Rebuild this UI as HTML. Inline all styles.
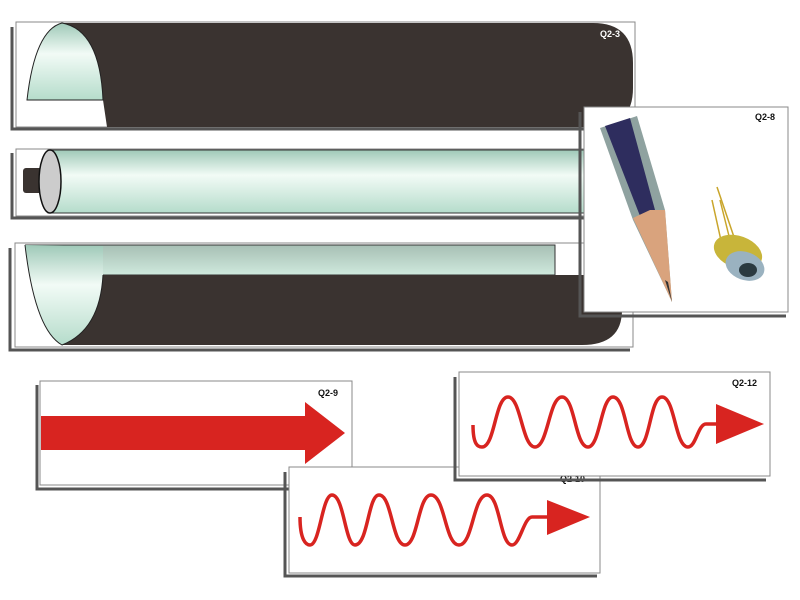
<!DOCTYPE html>
<html><head><meta charset="utf-8"><style>body{margin:0;background:#fff}svg{display:block}</style></head><body>
<svg width="800" height="600" viewBox="0 0 800 600" xmlns="http://www.w3.org/2000/svg" font-family="Liberation Sans, sans-serif">
<defs>
<linearGradient id="g" x1="0" y1="0" x2="0" y2="1">
<stop offset="0" stop-color="#9fc9b8"/><stop offset="0.4" stop-color="#f2fbf6"/><stop offset="1" stop-color="#b5dccb"/></linearGradient>
<linearGradient id="gs" x1="0" y1="0" x2="0" y2="1">
<stop offset="0" stop-color="#a7bfb4"/><stop offset="1" stop-color="#cfe9dd"/></linearGradient>
</defs>
<!-- Panel 1 -->
<path d="M12 27 V129 H632" fill="none" stroke="#555" stroke-width="3"/>
<rect x="16" y="22" width="619" height="105" fill="#fff" stroke="#888" stroke-width="1"/>
<path d="M62 23 H593 Q633 23 633 63 V88 Q633 127 593 127 H107 L103 100 Q100 30 62 23Z" fill="#3a3330"/>
<path d="M27 100 Q35 30 62 23 Q100 30 103 100Z" fill="url(#g)" stroke="#222" stroke-width="1"/>
<text x="600" y="37" font-size="9" font-weight="bold" fill="#fff">Q2-3</text>
<!-- Panel 2 -->
<path d="M12 153 V218 H585" fill="none" stroke="#555" stroke-width="3"/>
<rect x="16" y="149" width="570" height="67" fill="#fff" stroke="#888" stroke-width="1"/>
<rect x="48" y="150" width="536" height="63" fill="url(#g)" stroke="#333" stroke-width="1"/>
<rect x="23" y="168" width="22" height="25" rx="3" fill="#3a3330"/>
<ellipse cx="50" cy="181.5" rx="11" ry="31.5" fill="#ccc" stroke="#111" stroke-width="1.5"/>
<!-- Panel 3 -->
<path d="M10 248 V350 H630" fill="none" stroke="#555" stroke-width="3"/>
<rect x="15" y="243" width="618" height="104" fill="#fff" stroke="#888" stroke-width="1"/>
<path d="M25 245 H555 V275 H103Z" fill="url(#gs)" stroke="#333" stroke-width="1"/>
<path d="M62 345 Q100 330 103 275 H582 Q622 275 622 310 Q622 345 582 345Z" fill="#3a3330"/>
<path d="M25 245 Q35 330 62 345 Q100 330 103 275 V246 Z" fill="url(#g)" stroke="none"/>
<path d="M25 245 Q35 330 62 345 Q100 330 103 275" fill="none" stroke="#222" stroke-width="1"/>
<!-- Photo panel -->
<path d="M580 112 V316 H786" fill="none" stroke="#555" stroke-width="3"/>
<rect x="584" y="107" width="204" height="205" fill="#fff" stroke="#888" stroke-width="1"/>
<text x="755" y="120" font-size="9" font-weight="bold" fill="#111">Q2-8</text>
<polygon points="600,128 637,116 665,210 672,302 633,220" fill="#8fa2a0"/>
<polygon points="605,126 630,118 655,210 640,216" fill="#2e2d5e"/>
<polygon points="633,218 650,210 665,210 672,302" fill="#d9a37d"/>
<polygon points="665,280 672,302 668,282" fill="#333"/>
<line x1="720" y1="200" x2="730" y2="240" stroke="#c9a52a" stroke-width="1.5"/>
<line x1="717" y1="187" x2="735" y2="240" stroke="#c9a52a" stroke-width="1.5"/>
<line x1="712" y1="200" x2="722" y2="245" stroke="#c9a52a" stroke-width="1.5"/>
<ellipse cx="738" cy="252" rx="25" ry="16" fill="#c8b53a" transform="rotate(20 738 252)"/>
<ellipse cx="745" cy="266" rx="20" ry="14" fill="#9ab2c0" transform="rotate(20 745 266)"/>
<ellipse cx="748" cy="270" rx="9" ry="7" fill="#2a3a40"/>
<!-- Panel A -->
<path d="M37 385 V489 H350" fill="none" stroke="#555" stroke-width="3"/>
<rect x="40" y="381" width="312" height="104" fill="#fff" stroke="#888" stroke-width="1"/>
<text x="318" y="396" font-size="9" font-weight="bold" fill="#111">Q2-9</text>
<polygon points="41,416 305,416 305,402 345,433 305,464 305,450 41,450" fill="#d82420"/>
<!-- Panel B -->
<path d="M285 472 V576 H597" fill="none" stroke="#555" stroke-width="3"/>
<rect x="289" y="467" width="311" height="106" fill="#fff" stroke="#888" stroke-width="1"/>
<text x="560" y="482" font-size="9" font-weight="bold" fill="#111">Q2-10</text>
<path d="M300 517 C300 540 306 545 310 545 C320 545 322 495 332 495 C344 495 345 545 355 545 C368 545 368 495 379 495 C392 495 392 545 405 545 C418 545 418 495 431 495 C445 495 445 545 459 545 C473 545 473 495 487 495 C500 495 500 545 512 545 C520 545 524 517 532 517 H552" fill="none" stroke="#d82420" stroke-width="3.5"/>
<polygon points="547,500 590,517 547,535" fill="#d82420"/>
<!-- Panel C -->
<path d="M455 377 V480 H766" fill="none" stroke="#555" stroke-width="3"/>
<rect x="459" y="372" width="311" height="104" fill="#fff" stroke="#888" stroke-width="1"/>
<text x="732" y="386" font-size="9" font-weight="bold" fill="#111">Q2-12</text>
<path d="M473 425 C473 445 478 447 482 447 C495 447 495 397 508 397 C521 397 522 447 535 447 C548 447 549 397 562 397 C575 397 575 447 588 447 C600 447 601 397 613 397 C626 397 626 447 638 447 C650 447 650 397 662 397 C675 397 675 447 688 447 C696 447 698 424 706 424 H722" fill="none" stroke="#d82420" stroke-width="3.5"/>
<polygon points="716,404 764,424 716,444" fill="#d82420"/>
</svg>
</body></html>
